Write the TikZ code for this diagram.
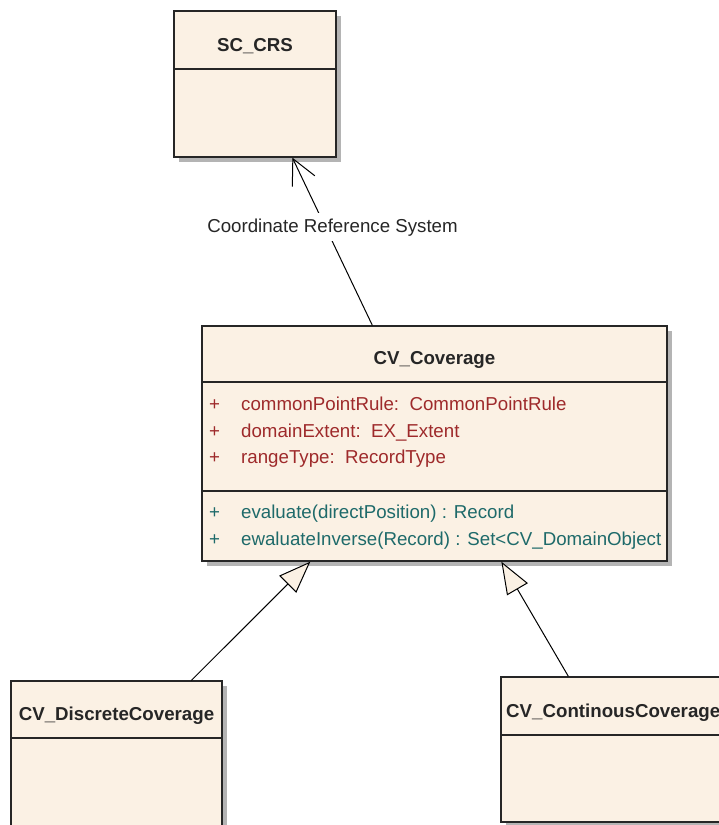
\documentclass[tikz,border=0pt]{standalone}
\usepackage{fontspec}
\setmainfont{Liberation Sans}
\usetikzlibrary{arrows.meta,shadows}

\definecolor{cream}{HTML}{FBF1E4}
\definecolor{attrred}{HTML}{9E2A2B}
\definecolor{opteal}{HTML}{1E6A6A}
\definecolor{shadowgray}{HTML}{B4B4B4}

\tikzset{
  classbox/.style={draw=black!85, line width=1.3pt, fill=cream, inner sep=0pt,
    drop shadow={shadow xshift=5pt, shadow yshift=-5pt, fill=shadowgray, opacity=1}},
  divider/.style={draw=black!85, line width=1.3pt},
  umltext/.style={inner sep=0pt, font=\fontsize{18.7}{22}\selectfont},
  classname/.style={umltext, font=\fontsize{18.7}{22}\selectfont\bfseries, text=black!85},
  attr/.style={umltext, anchor=base west, text=attrred},
  oper/.style={umltext, anchor=base west, text=opteal},
  assoc/.style={draw=black, line width=1pt, -{Straight Barb[length=25pt,width=25pt,line width=1pt]}},
  generalize/.style={draw=black, line width=1pt,
    -{Triangle[length=32pt,width=24pt,fill=cream,line width=1pt]}},
  rolelabel/.style={umltext, fill=white, inner xsep=2pt, inner ysep=5pt, text=black!85}
}

\begin{document}
\begin{tikzpicture}[x=1pt, y=-1pt]
\useasboundingbox (0,0) rectangle (719,825);
\fill[white] (0,0) rectangle (719,825);
\clip (0,0) rectangle (719,825);

% SC_CRS class
\node[classbox, minimum width=162pt, minimum height=146pt] (crs) at (255,84) {};
\draw[divider] (crs.west |- 0,69) -- (crs.east |- 0,69);
\node[classname, anchor=base] (crsname) at (255,51) {SC\_CRS};

% CV_Coverage class
\node[classbox, minimum width=465pt, minimum height=235pt] (cov) at (434.5,443.5) {};
\draw[divider] (cov.west |- 0,382) -- (cov.east |- 0,382);
\draw[divider] (cov.west |- 0,491) -- (cov.east |- 0,491);
\node[classname, anchor=base] (covname) at (434.5,364) {CV\_Coverage};

\node[attr] (a1p) at (209,410.5) {+};
\node[attr] (a1) at (241,410.5) {commonPointRule:\ \ CommonPointRule};
\node[attr] (a2p) at (209,437.5) {+};
\node[attr] (a2) at (241,437.5) {domainExtent:\ \ EX\_Extent};
\node[attr] (a3p) at (209,463) {+};
\node[attr] (a3) at (241,463) {rangeType:\ \ RecordType};

\node[oper] (o1p) at (209,518) {+};
\node[oper] (o1) at (241,518) {evaluate(directPosition) : Record};
\node[oper] (o2p) at (209,545.5) {+};
\node[oper] (o2) at (241,545.5) {ewaluateInverse(Record) : Set<CV\_DomainObject};

% CV_DiscreteCoverage class
\node[classbox, minimum width=211pt, minimum height=219pt] (disc) at (116.5,790.5) {};
\draw[divider] (disc.west |- 0,738) -- (disc.east |- 0,738);
\node[classname, anchor=base] (discname) at (116.5,720) {CV\_DiscreteCoverage};

% CV_ContinousCoverage class
\node[classbox, minimum width=229pt, minimum height=145pt] (cont) at (615.5,749.5) {};
\draw[divider] (cont.west |- 0,735) -- (cont.east |- 0,735);
\node[classname, anchor=base west] (contname) at (506,717) {CV\_ContinousCoverage};

% association to the reference system
\draw[assoc] ([xshift=171pt]cov.north west) -- ([xshift=119pt]crs.south west);
\node[rolelabel, anchor=base] (crslabel) at (332.5,232) {Coordinate Reference System};

% generalizations
\draw[generalize] ([xshift=181pt]disc.north west) -- ([xshift=109pt]cov.south west);
\draw[generalize] ([xshift=68pt]cont.north west) -- ([xshift=300pt]cov.south west);
\end{tikzpicture}
\end{document}
